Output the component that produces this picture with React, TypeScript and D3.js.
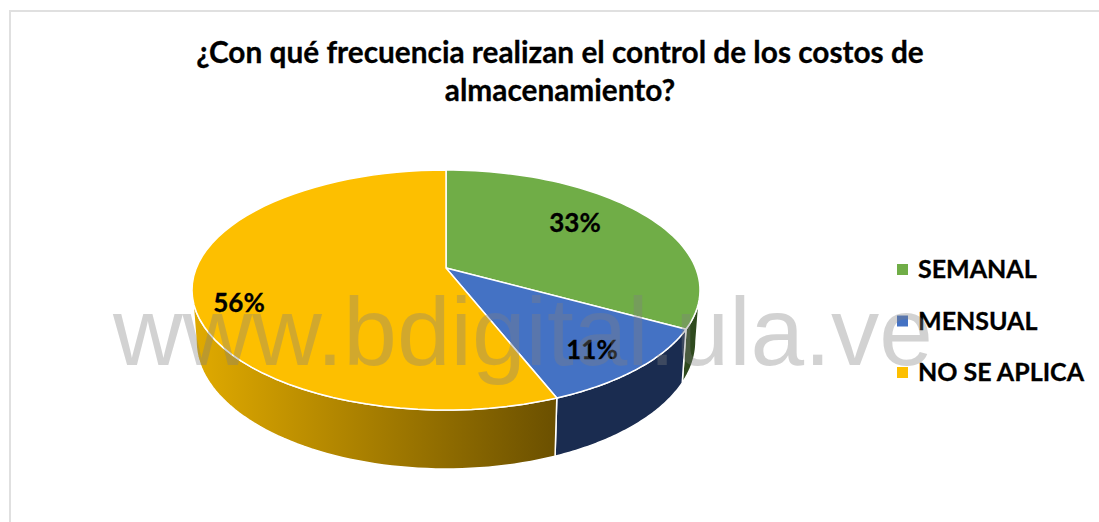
import React from "react";
import * as d3 from "d3";

const categories = ["SEMANAL", "MENSUAL", "NO SE APLICA"];
const values = [33, 11, 56];
const labels = ["33%", "11%", "56%"];
const topColors = ["#70ad47", "#4472c4", "#fdbf00"];
const wallColors = ["#2f4a1e", "#1a2c50", "url(#goldWall)"];
const titleLines = ["¿Con qué frecuencia realizan el control de los costos de", "almacenamiento?"];
const labelPos: [number, number][] = [[575, 232], [592, 359], [239, 312]];
const watermark = "www.bdigital.ula.ve";

const W = 1099, H = 522;
const cx = 446, cy = 290, rx = 254, ry = 120, tilt = 22 / 120;
const cxB = 446, cyB = 341, rxB = 250, ryB = 128;

// Perspective projection of a clockwise-from-top pie angle on to the unit disc.
const disc = (a: number): [number, number] => {
  const u = Math.sin(a), v = -Math.cos(a);
  const d = 1 - tilt * v;
  return [(u * Math.sqrt(1 - tilt * tilt)) / d, (v - tilt) / d];
};
const topPt = (a: number): [number, number] => {
  const [u, v] = disc(a);
  return [cx + rx * u, cy + ry * v];
};
const botPt = (a: number): [number, number] => {
  const [u, v] = disc(a);
  return [cxB + rxB * u, cyB + ryB * v];
};
const apex: [number, number] = [cx, cy - ry * tilt];

const pie = d3.pie<number>().sort(null).value((d) => d);
const arcs = pie(values);
const line = d3.line<[number, number]>().curve(d3.curveLinear);
const samples = (a0: number, a1: number) => d3.range(0, 61).map((i) => a0 + ((a1 - a0) * i) / 60);

// Angle where the projected rim reaches its widest point (v' = 0): cos a = -tilt.
const rightEdge = Math.acos(-tilt);
const leftEdge = 2 * Math.PI - rightEdge;

export default function App() {
  const color = d3.scaleOrdinal<string, string>().domain(categories).range(topColors);
  const wall = d3.scaleOrdinal<string, string>().domain(categories).range(wallColors);
  return (
    <svg width={W} height={H} style={{ position: "absolute", left: 0, top: 0 }}>
      <defs>
        <linearGradient id="goldWall" gradientUnits="userSpaceOnUse" x1={195} x2={556} y1={0} y2={0}>
          <stop offset="0" stopColor="#e0aa00" />
          <stop offset="1" stopColor="#6b5000" />
        </linearGradient>
      </defs>
      <rect x={0} y={0} width={W} height={H} fill="#ffffff" />
      <path d={`M10,${H}V11H${W}`} fill="none" stroke="#e0e0e0" strokeWidth={2} />
      {titleLines.map((t, i) => (
        <text key={t} x={560} y={63 + i * 38} textAnchor="middle" fontFamily="Lato" fontWeight={700} fontSize={29.8} fill="#000" stroke="#000" strokeWidth={0.3}>{t}</text>
      ))}
      {arcs.map((d, i) => {
        const a0 = Math.max(d.startAngle, rightEdge);
        const a1 = Math.min(d.endAngle, leftEdge);
        if (a1 <= a0) return null;
        const s = samples(a0, a1);
        const pts = [...s.map(topPt), ...s.slice().reverse().map(botPt)];
        return <path key={categories[i]} d={line(pts) + "Z"} fill={wall(categories[i])} stroke="#ffffff" strokeWidth={1.5} strokeLinejoin="round" />;
      })}
      {arcs.map((d, i) => {
        const pts = [apex, ...samples(d.startAngle, d.endAngle).map(topPt)];
        return <path key={categories[i]} d={line(pts) + "Z"} fill={color(categories[i])} stroke="#ffffff" strokeWidth={1.5} strokeLinejoin="round" />;
      })}
      {labels.map((t, i) => (
        <text key={t} x={labelPos[i][0]} y={labelPos[i][1]} textAnchor="middle" fontFamily="Lato" fontWeight={700} fontSize={26} fill="#000" stroke="#000" strokeWidth={0.3}>{t}</text>
      ))}
      {categories.map((c, i) => (
        <g key={c}>
          <rect x={897} y={264 + i * 51.5} width={11} height={11} fill={color(c)} />
          <text x={918} y={278 + i * 51.5} fontFamily="Lato" fontWeight={700} fontSize={25} fill="#000" stroke="#000" strokeWidth={0.3}>{c}</text>
        </g>
      ))}
      <text x={113} y={365} fontFamily="Liberation Sans" fontSize={96.4} fill="#808080" opacity={0.35}>{watermark}</text>
    </svg>
  );
}
